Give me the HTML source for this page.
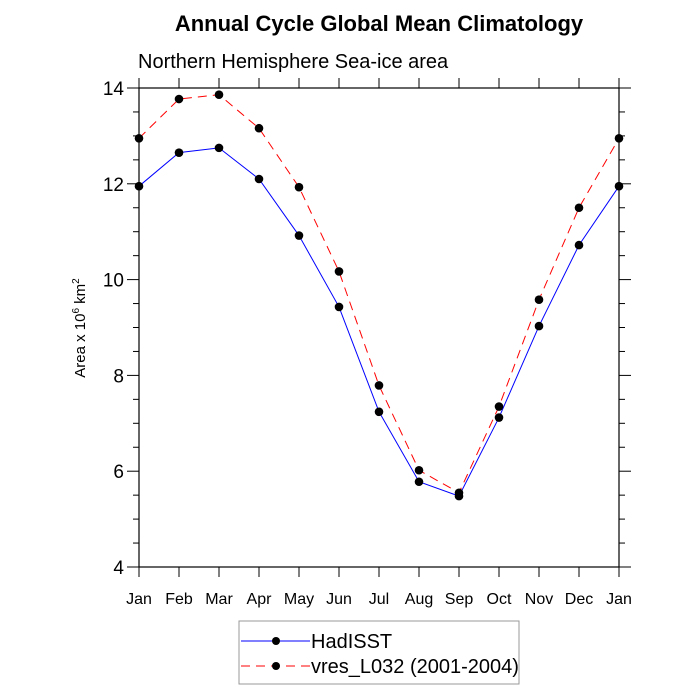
<!DOCTYPE html>
<html><head><meta charset="utf-8"><style>body{margin:0;background:#fff}svg{display:block;font-family:"Liberation Sans",sans-serif}</style></head>
<body>
<svg id="chart" width="700" height="700" viewBox="0 0 700 700">
<text x="379" y="31" text-anchor="middle" font-size="22" font-weight="bold">Annual Cycle Global Mean Climatology</text>
<text x="138" y="68" font-size="20">Northern Hemisphere Sea-ice area</text>
<text transform="translate(85,328) rotate(-90)" text-anchor="middle" font-size="15">Area x 10<tspan font-size="10" dy="-6">6</tspan><tspan dy="6"> km</tspan><tspan font-size="10" dy="-6">2</tspan></text>
<g id="axes"></g>
<g id="series"></g>
<g>
<rect x="239" y="621" width="280" height="63" fill="none" stroke="#999" stroke-width="1"/>
<line x1="241" y1="641" x2="310" y2="641" stroke="#00f" stroke-width="1"/>
<circle cx="276" cy="641" r="4" fill="#000"/>
<text x="311" y="648" font-size="20">HadISST</text>
<line x1="241" y1="666" x2="310" y2="666" stroke="#f00" stroke-width="1" stroke-dasharray="9,6"/>
<circle cx="276" cy="666" r="4" fill="#000"/>
<text x="311" y="673" font-size="20">vres_L032 (2001-2004)</text>
</g>
</svg>
<script>
const months=["Jan","Feb","Mar","Apr","May","Jun","Jul","Aug","Sep","Oct","Nov","Dec","Jan"];
const hadisst=[11.95,12.65,12.75,12.1,10.92,9.43,7.24,5.78,5.48,7.12,9.03,10.72,11.95];
const vres=[12.95,13.77,13.86,13.16,11.93,10.17,7.79,6.02,5.55,7.35,9.58,11.5,12.95];
const yTicks=[4,6,8,10,12,14];
const NS="http://www.w3.org/2000/svg";
const L=139,R=619,T=88,B=567,ymin=4,ymax=14;
const xs=i=>L+i*(R-L)/(months.length-1);
const ys=v=>B-(v-ymin)/(ymax-ymin)*(B-T);
function mk(t,a,p){const e=document.createElementNS(NS,t);for(const k in a)e.setAttribute(k,a[k]);p.appendChild(e);return e;}
const ax=document.getElementById('axes');
const frame=mk('rect',{x:L,y:T,width:R-L,height:B-T,fill:'none',stroke:'#000','stroke-width':1.2},ax);


for(let v=ymin;v<=ymax+1e-9;v+=0.5){const maj=Math.abs(v-Math.round(v/2)*2)<1e-9;const len=maj?12:6;const y=ys(v);
mk('line',{x1:L-len,y1:y,x2:L,y2:y,stroke:'#000'},ax);mk('line',{x1:R,y1:y,x2:R+len,y2:y,stroke:'#000'},ax);}
yTicks.forEach(v=>{const t=mk('text',{x:L-15,y:ys(v)+7,'text-anchor':'end','font-size':19},ax);t.textContent=v;

});
months.forEach((m,i)=>{const x=xs(i);mk('line',{x1:x,y1:B,x2:x,y2:B+10,stroke:'#000'},ax);mk('line',{x1:x,y1:T-10,x2:x,y2:T,stroke:'#000'},ax);
const t=mk('text',{x:x,y:B+37,'text-anchor':'middle','font-size':16},ax);t.textContent=m;

});
const sg=document.getElementById('series');
function draw(vals,color,dash,name){const g=mk('g',{},sg);


mk('polyline',{points:vals.map((v,i)=>xs(i)+','+ys(v)).join(' '),fill:'none',stroke:color,'stroke-width':1,'stroke-dasharray':dash},g);
vals.forEach((v,i)=>{const c=mk('circle',{cx:xs(i),cy:ys(v),r:4.3,fill:'#000'},g);

});}
draw(hadisst,'#00f','none','series-hadisst');
draw(vres,'#f00','9,6','series-vres');
</script>
</body></html>
